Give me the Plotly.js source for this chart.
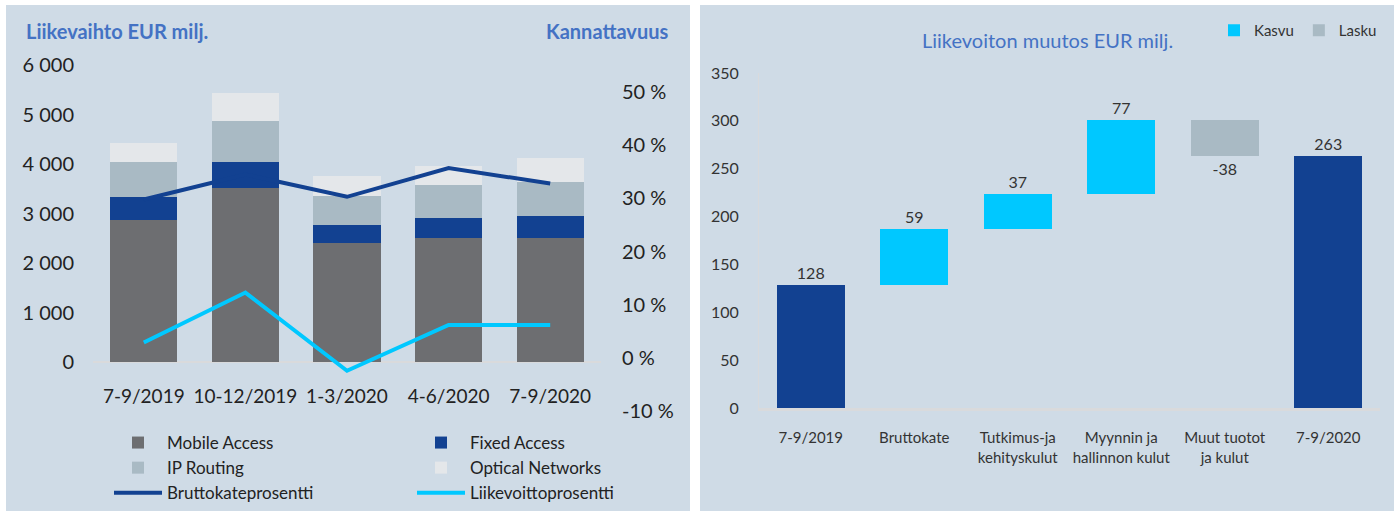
<!DOCTYPE html>
<html><head><meta charset="utf-8">
<script src="https://cdn.plot.ly/plotly-3.0.1.min.js"></script>
<style>html,body{margin:0;padding:0;background:#fff;} #chart{width:1400px;height:517px;}</style>
</head><body><div id="chart"></div>
<script>
// ---- Left chart data ----
const quarters = ['7-9/2019', '10-12/2019', '1-3/2020', '4-6/2020', '7-9/2020'];
const mobileAccess = [2870, 3510, 2410, 2500, 2500];
const fixedAccess = [470, 525, 357, 410, 445];
const ipRouting = [695, 835, 592, 667, 693];
const opticalNetworks = [396, 565, 398, 384, 485];
const grossMarginPct = [29.8, 34.5, 30.3, 35.7, 32.8];
const operatingMarginPct = [2.9, 12.3, -2.4, 6.2, 6.2];
const revenueTicks = [0, 1000, 2000, 3000, 4000, 5000, 6000];
const marginTicks = [-10, 0, 10, 20, 30, 40, 50];

// ---- Right chart data ----
const bridgeCategories = ['7-9/2019', 'Bruttokate', 'Tutkimus-ja<br>kehityskulut', 'Myynnin ja<br>hallinnon kulut', 'Muut tuotot<br>ja kulut', '7-9/2020'];
const bridgeStart = 128;
const bridgeChanges = [59, 37, 77, -38];
const bridgeEnd = 263;
const bridgeTicks = [0, 50, 100, 150, 200, 250, 300, 350];

// ---- helpers ----
const W = 1400, H = 517;
const px = v => v / W;
const py = v => 1 - v / H;
const FONT = 'Lato, "Liberation Sans", Arial, sans-serif';
const BLUE = '#124191', CYAN = '#00c8ff', GRAY = '#a9bac4', DARK = '#6d6e71', LIGHT = '#e4e7ea';

// waterfall bases computed from the data
const incX = [], incY = [], incB = [], decX = [], decY = [], decB = [];
let running = bridgeStart;
bridgeChanges.forEach((c, i) => {
  const cat = bridgeCategories[i + 1];
  if (c >= 0) { incX.push(cat); incY.push(c); incB.push(running); }
  else { decX.push(cat); decY.push(c); decB.push(running); }
  running += c;
});

const traces = [
  {type: 'bar', name: 'Mobile Access', x: quarters, y: mobileAccess, marker: {color: DARK}, xaxis: 'x', yaxis: 'y', legend: 'legend', hoverinfo: 'skip'},
  {type: 'bar', name: 'Fixed Access', x: quarters, y: fixedAccess, marker: {color: BLUE}, xaxis: 'x', yaxis: 'y', legend: 'legend3', hoverinfo: 'skip'},
  {type: 'bar', name: 'IP Routing', x: quarters, y: ipRouting, marker: {color: GRAY}, xaxis: 'x', yaxis: 'y', legend: 'legend', hoverinfo: 'skip'},
  {type: 'bar', name: 'Optical Networks', x: quarters, y: opticalNetworks, marker: {color: LIGHT}, xaxis: 'x', yaxis: 'y', legend: 'legend3', hoverinfo: 'skip'},
  {type: 'scatter', mode: 'lines', name: 'Bruttokateprosentti', x: quarters, y: grossMarginPct, line: {color: BLUE, width: 4}, xaxis: 'x', yaxis: 'y2', legend: 'legend', hoverinfo: 'skip'},
  {type: 'scatter', mode: 'lines', name: 'Liikevoittoprosentti', x: quarters, y: operatingMarginPct, line: {color: CYAN, width: 4}, xaxis: 'x', yaxis: 'y2', legend: 'legend3', hoverinfo: 'skip'},
  {type: 'bar', name: 'Yhteensä', showlegend: false, x: [bridgeCategories[0], bridgeCategories[5]], y: [bridgeStart, bridgeEnd],
   text: [String(bridgeStart), String(bridgeEnd)], textposition: 'outside', cliponaxis: false,
   textfont: {size: 16, color: '#333'}, marker: {color: BLUE}, xaxis: 'x3', yaxis: 'y3', hoverinfo: 'skip'},
  {type: 'bar', name: 'Kasvu', x: incX, y: incY, base: incB, text: incY.map(String), textposition: 'outside', cliponaxis: false,
   textfont: {size: 16, color: '#333'}, marker: {color: CYAN}, xaxis: 'x3', yaxis: 'y3', legend: 'legend2', hoverinfo: 'skip'},
  {type: 'bar', name: 'Lasku', x: decX, y: decY, base: decB, text: decY.map(String), textposition: 'outside', cliponaxis: false,
   textfont: {size: 16, color: '#333'}, marker: {color: GRAY}, xaxis: 'x3', yaxis: 'y3', legend: 'legend2', hoverinfo: 'skip'}
];

const leftTop = 65, leftBottom = 415, leftZero = 362, pxPer1000 = 49.5;
const pctZero = 358, pxPerPct = 5.32;

const layout = {
  width: W, height: H, margin: {l: 0, r: 0, t: 0, b: 0},
  paper_bgcolor: '#ffffff', plot_bgcolor: 'rgba(0,0,0,0)',
  font: {family: FONT, color: '#222'},
  separators: ', ',
  barmode: 'stack', bargap: 0.34,
  showlegend: true,
  shapes: [
    {type: 'rect', xref: 'paper', yref: 'paper', x0: px(6), x1: px(690), y0: py(511), y1: py(5), fillcolor: '#cfdbe6', line: {width: 0}, layer: 'below'},
    {type: 'rect', xref: 'paper', yref: 'paper', x0: px(700), x1: px(1394), y0: py(511), y1: py(5), fillcolor: '#cfdbe6', line: {width: 0}, layer: 'below'}
  ],
  xaxis: {domain: [px(93), px(601)], range: [-0.5, 4.5], type: 'category', anchor: 'free', position: py(leftZero),
          categoryorder: 'array', categoryarray: quarters,
          showline: false, showgrid: false, zeroline: false, ticks: '', tickfont: {size: 19, color: '#222'}, ticklabelstandoff: 21, fixedrange: true},
  yaxis: {domain: [py(leftBottom), py(leftTop)], anchor: 'x',
          range: [-(leftBottom - leftZero) / pxPer1000 * 1000, (leftZero - leftTop) / pxPer1000 * 1000],
          tickvals: revenueTicks, tickformat: ',d', showgrid: false, showline: false, ticks: '',
          zeroline: true, zerolinecolor: '#d9dadc', zerolinewidth: 2, tickfont: {size: 20, color: '#222'}, ticklabelstandoff: 18, fixedrange: true},
  yaxis2: {overlaying: 'y', side: 'right', anchor: 'x',
           range: [-(leftBottom - pctZero) / pxPerPct, (pctZero - leftTop) / pxPerPct],
           tickmode: 'array', tickvals: marginTicks, ticktext: marginTicks.map(v => v + ' %'),
           showgrid: false, zeroline: false, showline: false, ticks: '',
           tickfont: {size: 20, color: '#222'}, ticklabelstandoff: 20, fixedrange: true},
  xaxis3: {domain: [px(759), px(1380)], range: [-0.5, 5.5], type: 'category', anchor: 'y3',
           categoryorder: 'array', categoryarray: bridgeCategories,
           showline: true, linecolor: '#d9dadc', linewidth: 3, showgrid: false, zeroline: false, ticks: '',
           tickfont: {size: 15, color: '#333'}, ticklabelstandoff: 14, fixedrange: true},
  yaxis3: {domain: [py(408), py(73)], range: [0, 350], anchor: 'x3', tickvals: bridgeTicks,
           showline: true, linecolor: '#d9dadc', linewidth: 1, showgrid: false, zeroline: false, ticks: '',
           tickfont: {size: 16, color: '#333'}, ticklabelstandoff: 16, fixedrange: true},
  legend: {x: px(109), y: py(425), xanchor: 'left', yanchor: 'top', orientation: 'v', traceorder: 'normal',
           bgcolor: 'rgba(0,0,0,0)', font: {size: 17, color: '#222'}, itemwidth: 48, tracegroupgap: 0},
  legend3: {x: px(412), y: py(425), xanchor: 'left', yanchor: 'top', orientation: 'v', traceorder: 'normal',
            bgcolor: 'rgba(0,0,0,0)', font: {size: 17, color: '#222'}, itemwidth: 48, tracegroupgap: 0},
  legend2: {x: px(1214), y: py(14), xanchor: 'left', yanchor: 'top', orientation: 'h', traceorder: 'normal',
            bgcolor: 'rgba(0,0,0,0)', font: {size: 15, color: '#333'}, itemwidth: 30},
  annotations: [
    {xref: 'paper', yref: 'paper', x: px(24), y: py(31), xanchor: 'left', yanchor: 'middle', showarrow: false,
     text: '<b>Liikevaihto EUR milj.</b>', font: {size: 20, color: '#4472c4'}},
    {xref: 'paper', yref: 'paper', x: px(670), y: py(31), xanchor: 'right', yanchor: 'middle', showarrow: false,
     text: '<b>Kannattavuus</b>', font: {size: 20, color: '#4472c4'}},
    {xref: 'paper', yref: 'paper', x: px(1047), y: py(40), xanchor: 'center', yanchor: 'middle', showarrow: false,
     text: 'Liikevoiton muutos EUR milj.', font: {size: 20, color: '#4472c4'}}
  ]
};

Plotly.newPlot('chart', traces, layout, {staticPlot: true, displayModeBar: false});
</script>
</body></html>
